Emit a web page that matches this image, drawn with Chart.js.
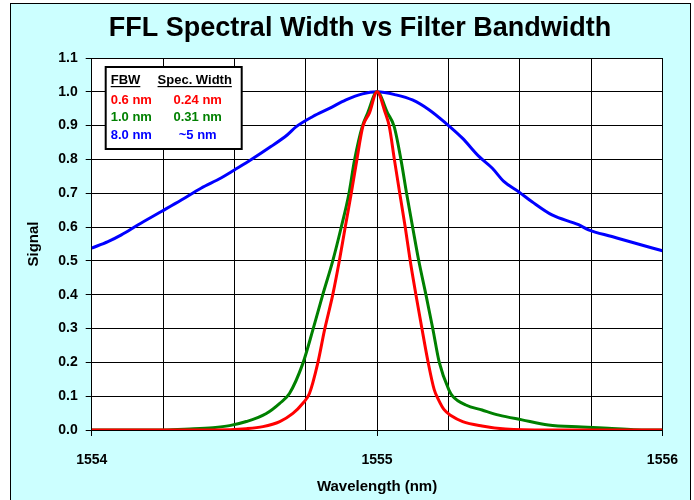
<!DOCTYPE html>
<html>
<head>
<meta charset="utf-8">
<title>FFL Spectral Width vs Filter Bandwidth</title>
<script src="https://cdn.jsdelivr.net/npm/chart.js@4/dist/chart.umd.min.js"></script>
<style>
  html, body { margin: 0; padding: 0; background: #fff; }
  #wrap { position: relative; width: 694px; height: 500px; }
  canvas { position: absolute; left: 0; top: 0; }
</style>
</head>
<body>
<div id="wrap"><canvas id="grafico" width="694" height="500"></canvas></div>
<script>
// Dados (comprimento de onda em nm, sinal normalizado)
const redWl   = [1554.0, 1554.43, 1554.542, 1554.6, 1554.659, 1554.705, 1554.74, 1554.763, 1554.792, 1554.816, 1554.845, 1554.868, 1554.888, 1554.909, 1554.929, 1554.95, 1554.973, 1555.0, 1555.029, 1555.043, 1555.061, 1555.08, 1555.099, 1555.116, 1555.136, 1555.157, 1555.179, 1555.2, 1555.215, 1555.235, 1555.26, 1555.3, 1555.368, 1555.45, 1555.6, 1556.0];
const redSig  = [0, 0, 0.004, 0.01, 0.025, 0.049, 0.079, 0.108, 0.197, 0.296, 0.401, 0.501, 0.598, 0.697, 0.798, 0.897, 0.937, 1.0, 0.937, 0.897, 0.798, 0.697, 0.598, 0.501, 0.401, 0.301, 0.2, 0.12, 0.09, 0.06, 0.042, 0.025, 0.012, 0.003, 0, 0];

const greenWl  = [1554.0, 1554.25, 1554.344, 1554.425, 1554.483, 1554.542, 1554.612, 1554.659, 1554.693, 1554.74, 1554.775, 1554.81, 1554.845, 1554.874, 1554.901, 1554.921, 1554.948, 1554.967, 1555.0, 1555.037, 1555.06, 1555.084, 1555.104, 1555.125, 1555.146, 1555.171, 1555.195, 1555.218, 1555.252, 1555.265, 1555.311, 1555.368, 1555.427, 1555.508, 1555.6, 1555.718, 1555.81, 1555.9, 1556.0];
const greenSig = [0, 0, 0.003, 0.007, 0.013, 0.025, 0.049, 0.079, 0.108, 0.197, 0.296, 0.401, 0.501, 0.598, 0.697, 0.798, 0.897, 0.937, 1.0, 0.937, 0.897, 0.798, 0.697, 0.598, 0.501, 0.401, 0.301, 0.2, 0.118, 0.1, 0.074, 0.059, 0.044, 0.03, 0.015, 0.009, 0.005, 0.001, 0];

const blueWl  = [1554.0, 1554.057, 1554.104, 1554.163, 1554.244, 1554.314, 1554.383, 1554.453, 1554.5, 1554.558, 1554.628, 1554.686, 1554.717, 1554.775, 1554.833, 1554.891, 1554.949, 1555.0, 1555.066, 1555.124, 1555.182, 1555.241, 1555.299, 1555.357, 1555.404, 1555.444, 1555.497, 1555.543, 1555.613, 1555.706, 1555.741, 1555.823, 1555.893, 1556.0];
const blueSig = [0.538, 0.557, 0.577, 0.607, 0.646, 0.68, 0.715, 0.745, 0.769, 0.799, 0.838, 0.873, 0.897, 0.927, 0.951, 0.976, 0.994, 1.0, 0.991, 0.976, 0.947, 0.907, 0.863, 0.809, 0.774, 0.735, 0.704, 0.675, 0.636, 0.607, 0.592, 0.572, 0.555, 0.53];

// Textos da legenda e do título
const titulo = 'FFL Spectral Width vs Filter Bandwidth';
const fbwLabels  = ['0.6 nm', '1.0 nm', '8.0 nm'];
const specWidths = ['0.24 nm', '0.31 nm', '~5 nm'];
const cores = ['#ff0000', '#008000', '#0000ff'];

const fonte = '"Liberation Sans", Arial, sans-serif';

function pontos(xs, ys) {
    return xs.map((x, i) => ({ x: x, y: ys[i] }));
}

// Fundo ciano com moldura, área do gráfico branca e título
const fundo = {
    id: 'fundo',
    beforeDraw(chart) {
        const { ctx, chartArea } = chart;
        ctx.save();
        ctx.fillStyle = '#ffffff';
        ctx.fillRect(0, 0, chart.width, chart.height);
        ctx.fillStyle = '#ccffff';
        ctx.fillRect(10.5, 3.5, 680, 500);
        ctx.strokeStyle = '#000';
        ctx.lineWidth = 1;
        ctx.strokeRect(10.5, 3.5, 680, 500);
        ctx.fillStyle = '#ffffff';
        ctx.fillRect(chartArea.left, chartArea.top, chartArea.right - chartArea.left, chartArea.bottom - chartArea.top);

        // título centrado como no original
        ctx.fillStyle = '#000';
        ctx.font = 'bold 27px ' + fonte;
        ctx.textAlign = 'center';
        ctx.textBaseline = 'middle';
        ctx.fillText(titulo, 360, 29);
        ctx.restore();
    }
};

// Caixa de legenda (FBW / Spec. Width)
const caixaLegenda = {
    id: 'caixaLegenda',
    afterDraw(chart) {
        const { ctx, chartArea } = chart;
        const x = chartArea.left + 14, y = chartArea.top + 9, w = 136, h = 82;
        ctx.save();
        ctx.fillStyle = '#fff';
        ctx.fillRect(x, y, w, h);
        ctx.lineWidth = 2;
        ctx.strokeStyle = '#000';
        ctx.strokeRect(x, y, w, h);

        ctx.font = 'bold 13px ' + fonte;
        ctx.textBaseline = 'alphabetic';
        ctx.fillStyle = '#000';
        ctx.textAlign = 'left';
        ctx.fillText('FBW', x + 5, y + 17);
        let wf = ctx.measureText('FBW').width;
        ctx.fillRect(x + 5, y + 19, wf, 1.2);
        ctx.textAlign = 'center';
        ctx.fillText('Spec. Width', x + 89, y + 17);
        let ws = ctx.measureText('Spec. Width').width;
        ctx.fillRect(x + 89 - ws / 2, y + 19, ws, 1.2);

        for (let i = 0; i < fbwLabels.length; i++) {
            const by = y + 36.5 + i * 17.5;
            ctx.fillStyle = cores[i];
            ctx.textAlign = 'left';
            ctx.fillText(fbwLabels[i], x + 5, by);
            ctx.textAlign = 'center';
            ctx.fillText(specWidths[i], x + 92, by);
        }
        ctx.restore();
    }
};

const ctx = document.getElementById('grafico').getContext('2d');
new Chart(ctx, {
    type: 'line',
    data: {
        datasets: [
            { label: '0.6 nm', data: pontos(redWl, redSig), borderColor: cores[0] },
            { label: '1.0 nm', data: pontos(greenWl, greenSig), borderColor: cores[1] },
            { label: '8.0 nm', data: pontos(blueWl, blueSig), borderColor: cores[2] }
        ]
    },
    options: {
        responsive: false,
        animation: false,
        parsing: false,
        elements: {
            line: { borderWidth: 3, cubicInterpolationMode: 'monotone', fill: false },
            point: { radius: 0 }
        },
        layout: { padding: { left: 0, right: 30, top: 58, bottom: 0 } },
        plugins: {
            legend: { display: false },
            tooltip: { enabled: false },
            title: { display: false }
        },
        scales: {
            x: {
                type: 'linear',
                min: 1554,
                max: 1556,
                afterFit: s => { s.height = 70; },
                ticks: {
                    stepSize: 0.25,
                    autoSkip: false,
                    maxRotation: 0,
                    padding: 16,
                    color: '#000',
                    font: { family: fonte, size: 14, weight: 'bold' },
                    callback: v => Number.isInteger(v) ? String(v) : ''
                },
                grid: {
                    color: '#000',
                    lineWidth: 1,
                    tickLength: 6,
                    tickColor: c => (c.tick && Number.isInteger(c.tick.value)) ? '#000' : 'rgba(0,0,0,0)'
                },
                border: { color: '#000', width: 1 },
                title: {
                    display: true,
                    text: 'Wavelength (nm)',
                    color: '#000',
                    font: { family: fonte, size: 15, weight: 'bold' },
                    padding: { top: 0, bottom: 4 }
                }
            },
            y: {
                min: 0,
                max: 1.1,
                afterFit: s => { s.width = 91.7; },
                ticks: {
                    stepSize: 0.1,
                    padding: 8,
                    color: '#000',
                    font: { family: fonte, size: 14, weight: 'bold' },
                    callback: v => v.toFixed(1)
                },
                grid: { color: '#000', lineWidth: 1, tickLength: 6, tickColor: '#000' },
                border: { color: '#000', width: 1 },
                title: {
                    display: true,
                    text: 'Signal',
                    color: '#000',
                    font: { family: fonte, size: 15, weight: 'bold' },
                    padding: { top: 25, bottom: 0 }
                }
            }
        }
    },
    plugins: [fundo, caixaLegenda]
});
</script>
</body>
</html>
